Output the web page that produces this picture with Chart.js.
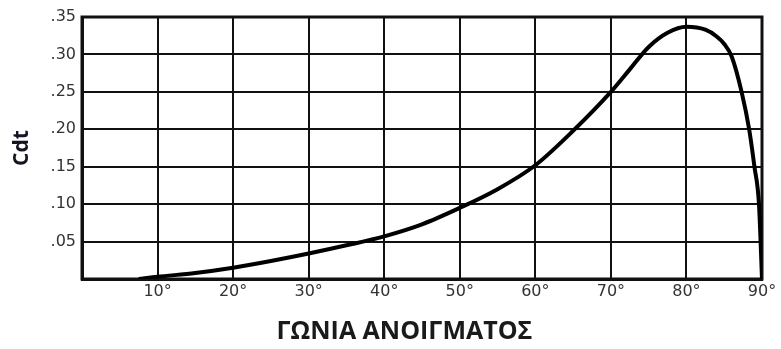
<!DOCTYPE html>
<html>
<head>
<meta charset="utf-8">
<script src="https://cdn.jsdelivr.net/npm/chart.js@4/dist/chart.umd.min.js"></script>
<style>
  html, body { margin: 0; padding: 0; background: #fff; }
  #wrap { width: 781px; height: 349px; position: relative; }
</style>
</head>
<body>
<div id="wrap"><canvas id="c" width="781" height="349"></canvas></div>
<script>
// Opening angle (degrees) and the drag coefficient Cdt
const angles = [7.5, 10, 15, 20, 25, 30, 35, 40, 45, 50, 55, 60, 65, 70, 72.5, 75, 77.5, 80, 82.5, 84, 85, 86, 87.3, 88.3, 89, 89.6, 90];
const cdt    = [0, 0.003, 0.008, 0.015, 0.024, 0.034, 0.045, 0.057, 0.073, 0.095, 0.12, 0.152, 0.198, 0.25, 0.28, 0.31, 0.329, 0.337, 0.333, 0.324, 0.314, 0.297, 0.25, 0.20, 0.15, 0.10, 0.0];

// Axis ticks
const xTickValues = [0, 10, 20, 30, 40, 50, 60, 70, 80, 90];
const xTickLabels = ['', '10°', '20°', '30°', '40°', '50°', '60°', '70°', '80°', '90°'];
const yTickValues = [0, 0.05, 0.10, 0.15, 0.20, 0.25, 0.30, 0.35];
const yTickLabels = ['', '.05', '.10', '.15', '.20', '.25', '.30', '.35'];

const yTitle = 'Cdt';
const xCaption = 'ΓΩΝΙΑ ΑΝΟΙΓΜΑΤΟΣ';

const INK = '#111';
const tickFont = { family: '"DejaVu Sans", sans-serif', size: 16 };

// Heavy frame around the plotting area
const framePlugin = {
  id: 'frame',
  beforeDatasetsDraw(chart) {
    const { ctx, chartArea: a } = chart;
    ctx.save();
    ctx.strokeStyle = INK;
    ctx.lineWidth = 3;
    ctx.strokeRect(a.left, a.top, a.right - a.left, a.bottom - a.top);
    ctx.restore();
  }
};

// Bold caption under the angle axis
const captionPlugin = {
  id: 'caption',
  afterDraw(chart) {
    const { ctx } = chart;
    ctx.save();
    ctx.font = 'bold 25px "Open Sans", sans-serif';
    ctx.fillStyle = '#1a1a1a';
    ctx.textAlign = 'center';
    ctx.textBaseline = 'middle';
    ctx.fillText(xCaption, chart.width / 2 + 14, 332);
    ctx.restore();
  }
};

new Chart(document.getElementById('c'), {
  type: 'scatter',
  data: {
    datasets: [{
      data: angles.map((a, i) => ({ x: a, y: cdt[i] })),
      showLine: true,
      borderColor: '#000',
      borderWidth: 4,
      pointRadius: 0,
      cubicInterpolationMode: 'monotone',
      fill: false
    }]
  },
  options: {
    responsive: false,
    animation: false,
    layout: { padding: { top: 17, right: 19, left: 0, bottom: 0 } },
    plugins: { legend: { display: false }, tooltip: { enabled: false } },
    scales: {
      x: {
        type: 'linear',
        min: 0, max: 90,
        afterBuildTicks(scale) { scale.ticks = xTickValues.map(v => ({ value: v })); },
        afterFit(scale) { scale.height = 70; },
        grid: { color: INK, lineWidth: 2, drawTicks: false },
        border: { color: INK, width: 3 },
        ticks: {
          color: '#333', font: tickFont, padding: 3, maxRotation: 0,
          callback: (v, i) => xTickLabels[i]
        }
      },
      y: {
        type: 'linear',
        min: 0, max: 0.35,
        afterBuildTicks(scale) { scale.ticks = yTickValues.map(v => ({ value: v })); },
        afterFit(scale) { scale.width = 82; },
        grid: { color: INK, lineWidth: 2, drawTicks: false },
        border: { color: INK, width: 3 },
        ticks: {
          color: '#333', font: tickFont, padding: 6,
          callback: (v, i) => yTickLabels[i]
        },
        title: {
          display: true,
          text: yTitle,
          color: '#141424',
          font: { family: '"Open Sans", sans-serif', size: 21, weight: 'bold' },
          padding: { top: 9, bottom: 0 }
        }
      }
    }
  },
  plugins: [framePlugin, captionPlugin]
});
</script>
</body>
</html>
